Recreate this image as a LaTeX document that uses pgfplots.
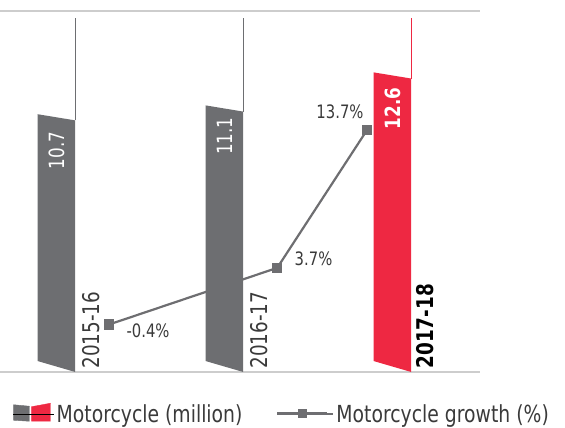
\documentclass[border=0pt]{standalone}
\usepackage{pgfplots}
\pgfplotsset{compat=1.18}
\usepackage{fontspec}
\setmainfont{DejaVu Sans}[FakeStretch=0.8]
\definecolor{barGray}{HTML}{6D6E71}
\definecolor{barRed}{HTML}{EE2842}
\definecolor{lineGray}{HTML}{6E6E71}
\definecolor{ruleGray}{HTML}{CDCDCD}
\definecolor{txtGray}{HTML}{3A3A3A}
\begin{document}
\begin{tikzpicture}
\pgfplotsset{base/.style={width=480pt,height=361pt,scale only axis,
  xmin=-0.3363,xmax=2.521,xtick=\empty,ytick=\empty}}
% growth line (behind bars)
\begin{axis}[base, ymin=-3.836, ymax=22.285, axis lines=none]
\addplot[lineGray, line width=2.2pt, mark=square*, mark size=4pt, mark options={solid}, forget plot]
  coordinates {(0.3125,-0.4) (1.314,3.7) (1.85,13.7)};
\node[text=txtGray, font=\fontsize{18.5}{20}\selectfont, inner sep=0pt] at (axis cs:0.545,-0.83) {-0.4\%};
\node[text=txtGray, font=\fontsize{18.5}{20}\selectfont, inner sep=0pt] at (axis cs:1.53,4.39) {3.7\%};
\node[text=txtGray, font=\fontsize{18.5}{20}\selectfont, inner sep=0pt] at (axis cs:1.6875,15.0) {13.7\%};
\end{axis}
% bars
\begin{axis}[base, name=ax, ymin=-0.866, ymax=15.528,
  separate axis lines,
  x axis line style={draw=ruleGray, line width=1.4pt},
  y axis line style={draw=none},
  legend style={draw=none, fill=none, at={(0.021,-0.117)}, anchor=west,
    font=\fontsize{23.5}{27}\selectfont, text=txtGray,
    legend columns=2, legend cell align=left,
    /tikz/every even column/.append style={column sep=32pt}}]
\addplot[fill=barGray, draw=none, forget plot] coordinates {(-0.1116,-0.37) (-0.1116,10.84) (0.1116,10.56) (0.1116,-0.866)} -- cycle;
\addplot[fill=barGray, draw=none, forget plot] coordinates {(0.8884,-0.37) (0.8884,11.24) (1.1116,10.96) (1.1116,-0.866)} -- cycle;
\addplot[fill=barRed, draw=none, forget plot] coordinates {(1.8884,-0.37) (1.8884,12.74) (2.1116,12.46) (2.1116,-0.866)} -- cycle;
\addplot[barGray, line width=1.3pt, forget plot] coordinates {(0.1116,10.56) (0.1116,15.21)};
\addplot[barGray, line width=1.3pt, forget plot] coordinates {(1.1116,10.96) (1.1116,15.21)};
\addplot[barRed, line width=1.3pt, forget plot] coordinates {(2.1116,12.46) (2.1116,15.21)};
\node[rotate=90, anchor=east, text=white, font=\fontsize{21}{22}\selectfont, inner sep=0pt] at (axis cs:0,10.05) {10.7};
\node[rotate=90, anchor=east, text=white, font=\fontsize{21}{22}\selectfont, inner sep=0pt] at (axis cs:1,10.7) {11.1};
\node[rotate=90, anchor=east, text=white, font=\bfseries\fontsize{21}{22}\selectfont, inner sep=0pt] at (axis cs:2,12.05) {12.6};
\node[rotate=90, anchor=west, text=txtGray, font=\fontsize{23}{25}\selectfont, inner sep=0pt] at (axis cs:0.205,-0.72) {2015-16};
\node[rotate=90, anchor=west, text=txtGray, font=\fontsize{23}{25}\selectfont, inner sep=0pt] at (axis cs:1.205,-0.72) {2016-17};
\node[rotate=90, anchor=west, text=black, font=\bfseries\fontsize{23}{25}\selectfont, inner sep=0pt] at (axis cs:2.195,-0.72) {2017-18};
\addlegendimage{legend image code/.code={
  \fill[barGray] (0pt,-6pt) -- (0pt,9.5pt) -- (16pt,8pt) -- (16pt,-7pt) -- cycle;
  \fill[barRed] (18pt,-7pt) -- (18pt,7.5pt) -- (37pt,11pt) -- (37pt,-7pt) -- cycle;
  \path (0pt,0pt) -- (41pt,0pt);}}
\addlegendentry{Motorcycle (million)}
\addlegendimage{lineGray, line width=2pt, mark=square*, mark size=3.5pt,
  legend image code/.code={\draw[mark repeat=2,mark phase=2] plot coordinates {(0pt,1pt) (25pt,1pt) (50pt,1pt)};
  \path (0pt,0pt) -- (56pt,0pt);}}
\addlegendentry{Motorcycle growth (\%)}
\end{axis}
\pgfresetboundingbox
\path[use as bounding box] ([yshift=-56pt]ax.south west) rectangle ([xshift=565pt,yshift=11pt]ax.north west);
\end{tikzpicture}
\end{document}
